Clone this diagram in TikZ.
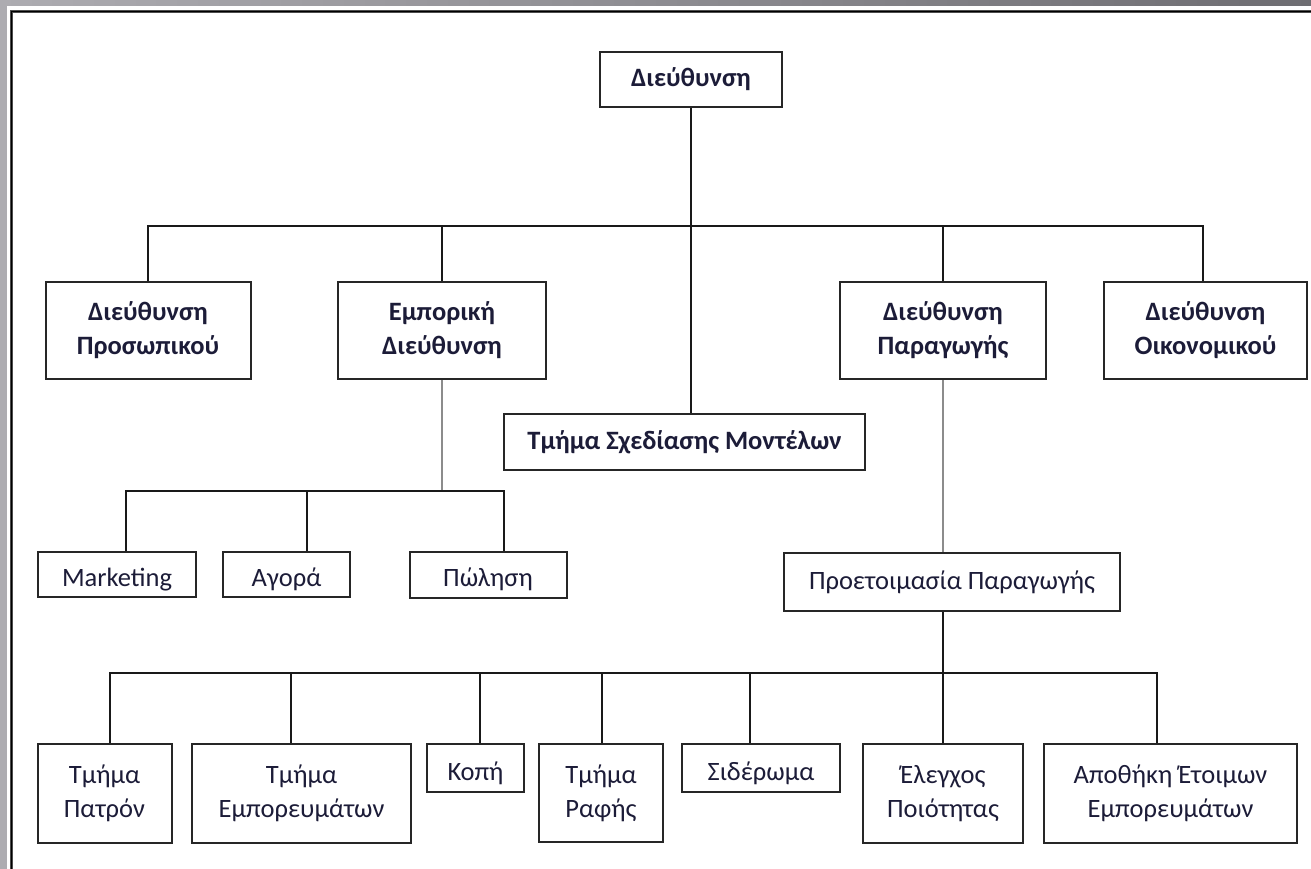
\documentclass[tikz,border=0pt]{standalone}
\usepackage{fontspec}
\setmainfont{Carlito}
\usepackage{tikz}
\usetikzlibrary{positioning}
\newcommand{\xamilo}[1]{\raisebox{-5pt}[\height][\depth]{#1}}
\definecolor{tinta}{HTML}{1C1C38}
\definecolor{marco}{HTML}{ADACB1}
\definecolor{marcoosc}{HTML}{6E6D72}
\tikzstyle{kouti} = [draw=black!85, line width=2pt, rectangle, inner sep=0pt, align=center, text=tinta, font=\fontsize{26.5}{34}\selectfont]
\tikzstyle{diefthinsi} = [kouti, font=\fontsize{26.5}{34}\selectfont\bfseries]
\tikzstyle{grammi} = [draw=black!90, line width=2pt]
\tikzstyle{grigrammi} = [draw=black!45, line width=2pt]

\begin{document}
\begin{tikzpicture}[x=1pt, y=-1pt]
	\useasboundingbox (0,0) rectangle (1311,869);
	\fill[marco] (0,0) rectangle (7,869);
	\shade[left color=marco, right color=marcoosc] (0,0) rectangle (1311,6);
	\fill[white] (7,6) rectangle (1311,869);
	\draw[black!70, line width=3pt] (11.5,869) -- (11.5,11.5) -- (1311,11.5);
	\draw[black, line width=1pt] (11.5,869) -- (11.5,11.5) -- (1311,11.5);

	\node [diefthinsi, minimum width=182pt, minimum height=55pt] (dieuth) at (691,79.5) {Διεύθυνση};
	\node [diefthinsi, minimum width=205pt, minimum height=97pt] (prosopikou) at (148,330.5) {Διεύθυνση\\Προσωπικού};
	\node [diefthinsi, minimum width=208pt, minimum height=97pt] (emporiki) at (442,330.5) {Εμπορική\\Διεύθυνση};
	\node [diefthinsi, minimum width=206pt, minimum height=97pt] (paragogis) at (943,330.5) {Διεύθυνση\\Παραγωγής};
	\node [diefthinsi, minimum width=203pt, minimum height=97pt] (oikonomikou) at (1205.5,330.5) {Διεύθυνση\\Οικονομικού};
	\node [diefthinsi, minimum width=361pt, minimum height=56pt] (sxediasi) at (684.5,442) {Τμήμα Σχεδίασης Μοντέλων};

	\node [kouti, minimum width=158pt, minimum height=45pt] (marketing) at (117,574.5) {\xamilo{Marketing}};
	\node [kouti, minimum width=127pt, minimum height=45pt] (agora) at (286.5,574.5) {\xamilo{Αγορά}};
	\node [kouti, minimum width=157pt, minimum height=46pt] (polisi) at (488,574.5) {\xamilo{Πώληση}};
	\node [kouti, minimum width=336pt, minimum height=58pt] (proetoimasia) at (952,582) {Προετοιμασία Παραγωγής};

	\node [kouti, minimum width=134pt, minimum height=99pt] (patron) at (104.5,793.5) {Τμήμα\\Πατρόν};
	\node [kouti, minimum width=219pt, minimum height=99pt] (emporevmaton) at (301.5,793.5) {Τμήμα\\Εμπορευμάτων};
	\node [kouti, minimum width=97pt, minimum height=48pt] (kopi) at (475.5,768) {\xamilo{Κοπή}};
	\node [kouti, minimum width=124pt, minimum height=98pt] (rafis) at (601,793) {Τμήμα\\Ραφής};
	\node [kouti, minimum width=158pt, minimum height=48pt] (siderwma) at (761,768) {\xamilo{Σιδέρωμα}};
	\node [kouti, minimum width=160pt, minimum height=99pt] (elegxos) at (943,793.5) {Έλεγχος\\Ποιότητας};
	\node [kouti, minimum width=253pt, minimum height=99pt] (apothiki) at (1170.5,793.5) {Αποθήκη Έτοιμων\\Εμπορευμάτων};

	\coordinate (bus1) at (691,226);
	\coordinate (bus2) at (442,491);
	\coordinate (bus3) at (943,673);

	\draw [grammi] (dieuth.south) -- (bus1);
	\draw [grammi] (prosopikou.north) |- (bus1) -| ([xshift=-2.5pt]oikonomikou.north);
	\draw [grammi] (emporiki.north) -- (emporiki.north |- bus1);
	\draw [grammi] (paragogis.north) -- (paragogis.north |- bus1);
	\draw [grammi] (bus1) -- (bus1 |- sxediasi.north);

	\draw [grigrammi] (emporiki.south) -- (bus2);
	\draw [grammi] ([xshift=9pt]marketing.north) |- ([xshift=16pt]polisi.north |- bus2) -- ([xshift=16pt]polisi.north);
	\draw [grammi] ([xshift=20.5pt]agora.north) -- ([xshift=20.5pt]agora.north |- bus2);

	\draw [grigrammi] (paragogis.south) -- (paragogis.south |- proetoimasia.north);
	\draw [grammi] (proetoimasia.south -| bus3) -- (bus3);
	\draw [grammi] ([xshift=5.5pt]patron.north) |- ([xshift=-13.5pt]apothiki.north |- bus3) -- ([xshift=-13.5pt]apothiki.north);
	\draw [grammi] ([xshift=-10.5pt]emporevmaton.north) -- ([xshift=-10.5pt]emporevmaton.north |- bus3);
	\draw [grammi] ([xshift=4.5pt]kopi.north) -- ([xshift=4.5pt]kopi.north |- bus3);
	\draw [grammi] ([xshift=1pt]rafis.north) -- ([xshift=1pt]rafis.north |- bus3);
	\draw [grammi] ([xshift=-11pt]siderwma.north) -- ([xshift=-11pt]siderwma.north |- bus3);
	\draw [grammi] (elegxos.north) -- (elegxos.north |- bus3);
\end{tikzpicture}
\end{document}
